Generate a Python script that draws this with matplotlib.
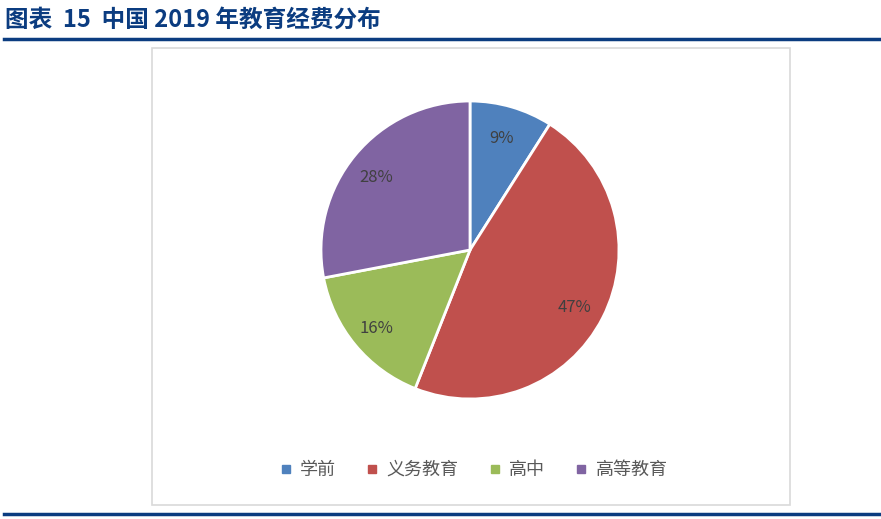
import matplotlib
matplotlib.use("Agg")
import matplotlib.pyplot as plt
from matplotlib.patches import Rectangle
from matplotlib.lines import Line2D

plt.rcParams['font.family'] = ['Noto Sans CJK SC', 'DejaVu Sans']

categories = ['学前', '义务教育', '高中', '高等教育']
shares = [9, 47, 16, 28]
colors = ['#4F81BD', '#C0504D', '#9BBB59', '#8064A2']
title = '图表  15  中国 2019 年教育经费分布'

W, H = 881, 519
fig = plt.figure(figsize=(W / 100, H / 100), dpi=100)
bg = fig.add_axes([0, 0, 1, 1])
bg.set_xlim(0, W)
bg.set_ylim(H, 0)
bg.axis('off')

# title and rules
bg.text(5, 20, title, fontsize=17, fontweight='bold', color='#0B3C80', va='center', ha='left')
bg.add_line(Line2D([4, W], [39, 39], color='#0B3C80', lw=2.5))
bg.add_line(Line2D([4, W], [514, 514], color='#0B3C80', lw=2.5))
# chart box
bg.add_patch(Rectangle((152, 48), 638, 457, fill=False, edgecolor='#D9D9D9', lw=1.2))

# pie
ax = fig.add_axes([0, 0, 1, 1])
ax.axis('off')
cx, cy, r = 470, H - 250, 149
wedges, texts, autotexts = ax.pie(
    shares, colors=colors, startangle=90, counterclock=False,
    center=(cx, cy), radius=r, autopct='%d%%', pctdistance=0.80,
    wedgeprops=dict(edgecolor='white', linewidth=2),
    textprops=dict(color='#404040', fontsize=12))
for t in autotexts:
    x, y = t.get_position()
    t.set_position((x - 2, y - 3))
ax.set_xlim(0, W)
ax.set_ylim(0, H)
ax.set_aspect('auto')

handles = [Line2D([], [], marker='s', linestyle='none', markersize=6,
                  markerfacecolor=c, markeredgecolor=c) for c in colors]
fig.legend(handles, categories, loc='center', bbox_to_anchor=(473 / W, 1 - 470 / H),
           ncol=4, frameon=False, fontsize=13, handlelength=0.8, handletextpad=0.4,
           columnspacing=1.6, labelcolor='#595959')

fig.savefig('out.png', dpi=100)
